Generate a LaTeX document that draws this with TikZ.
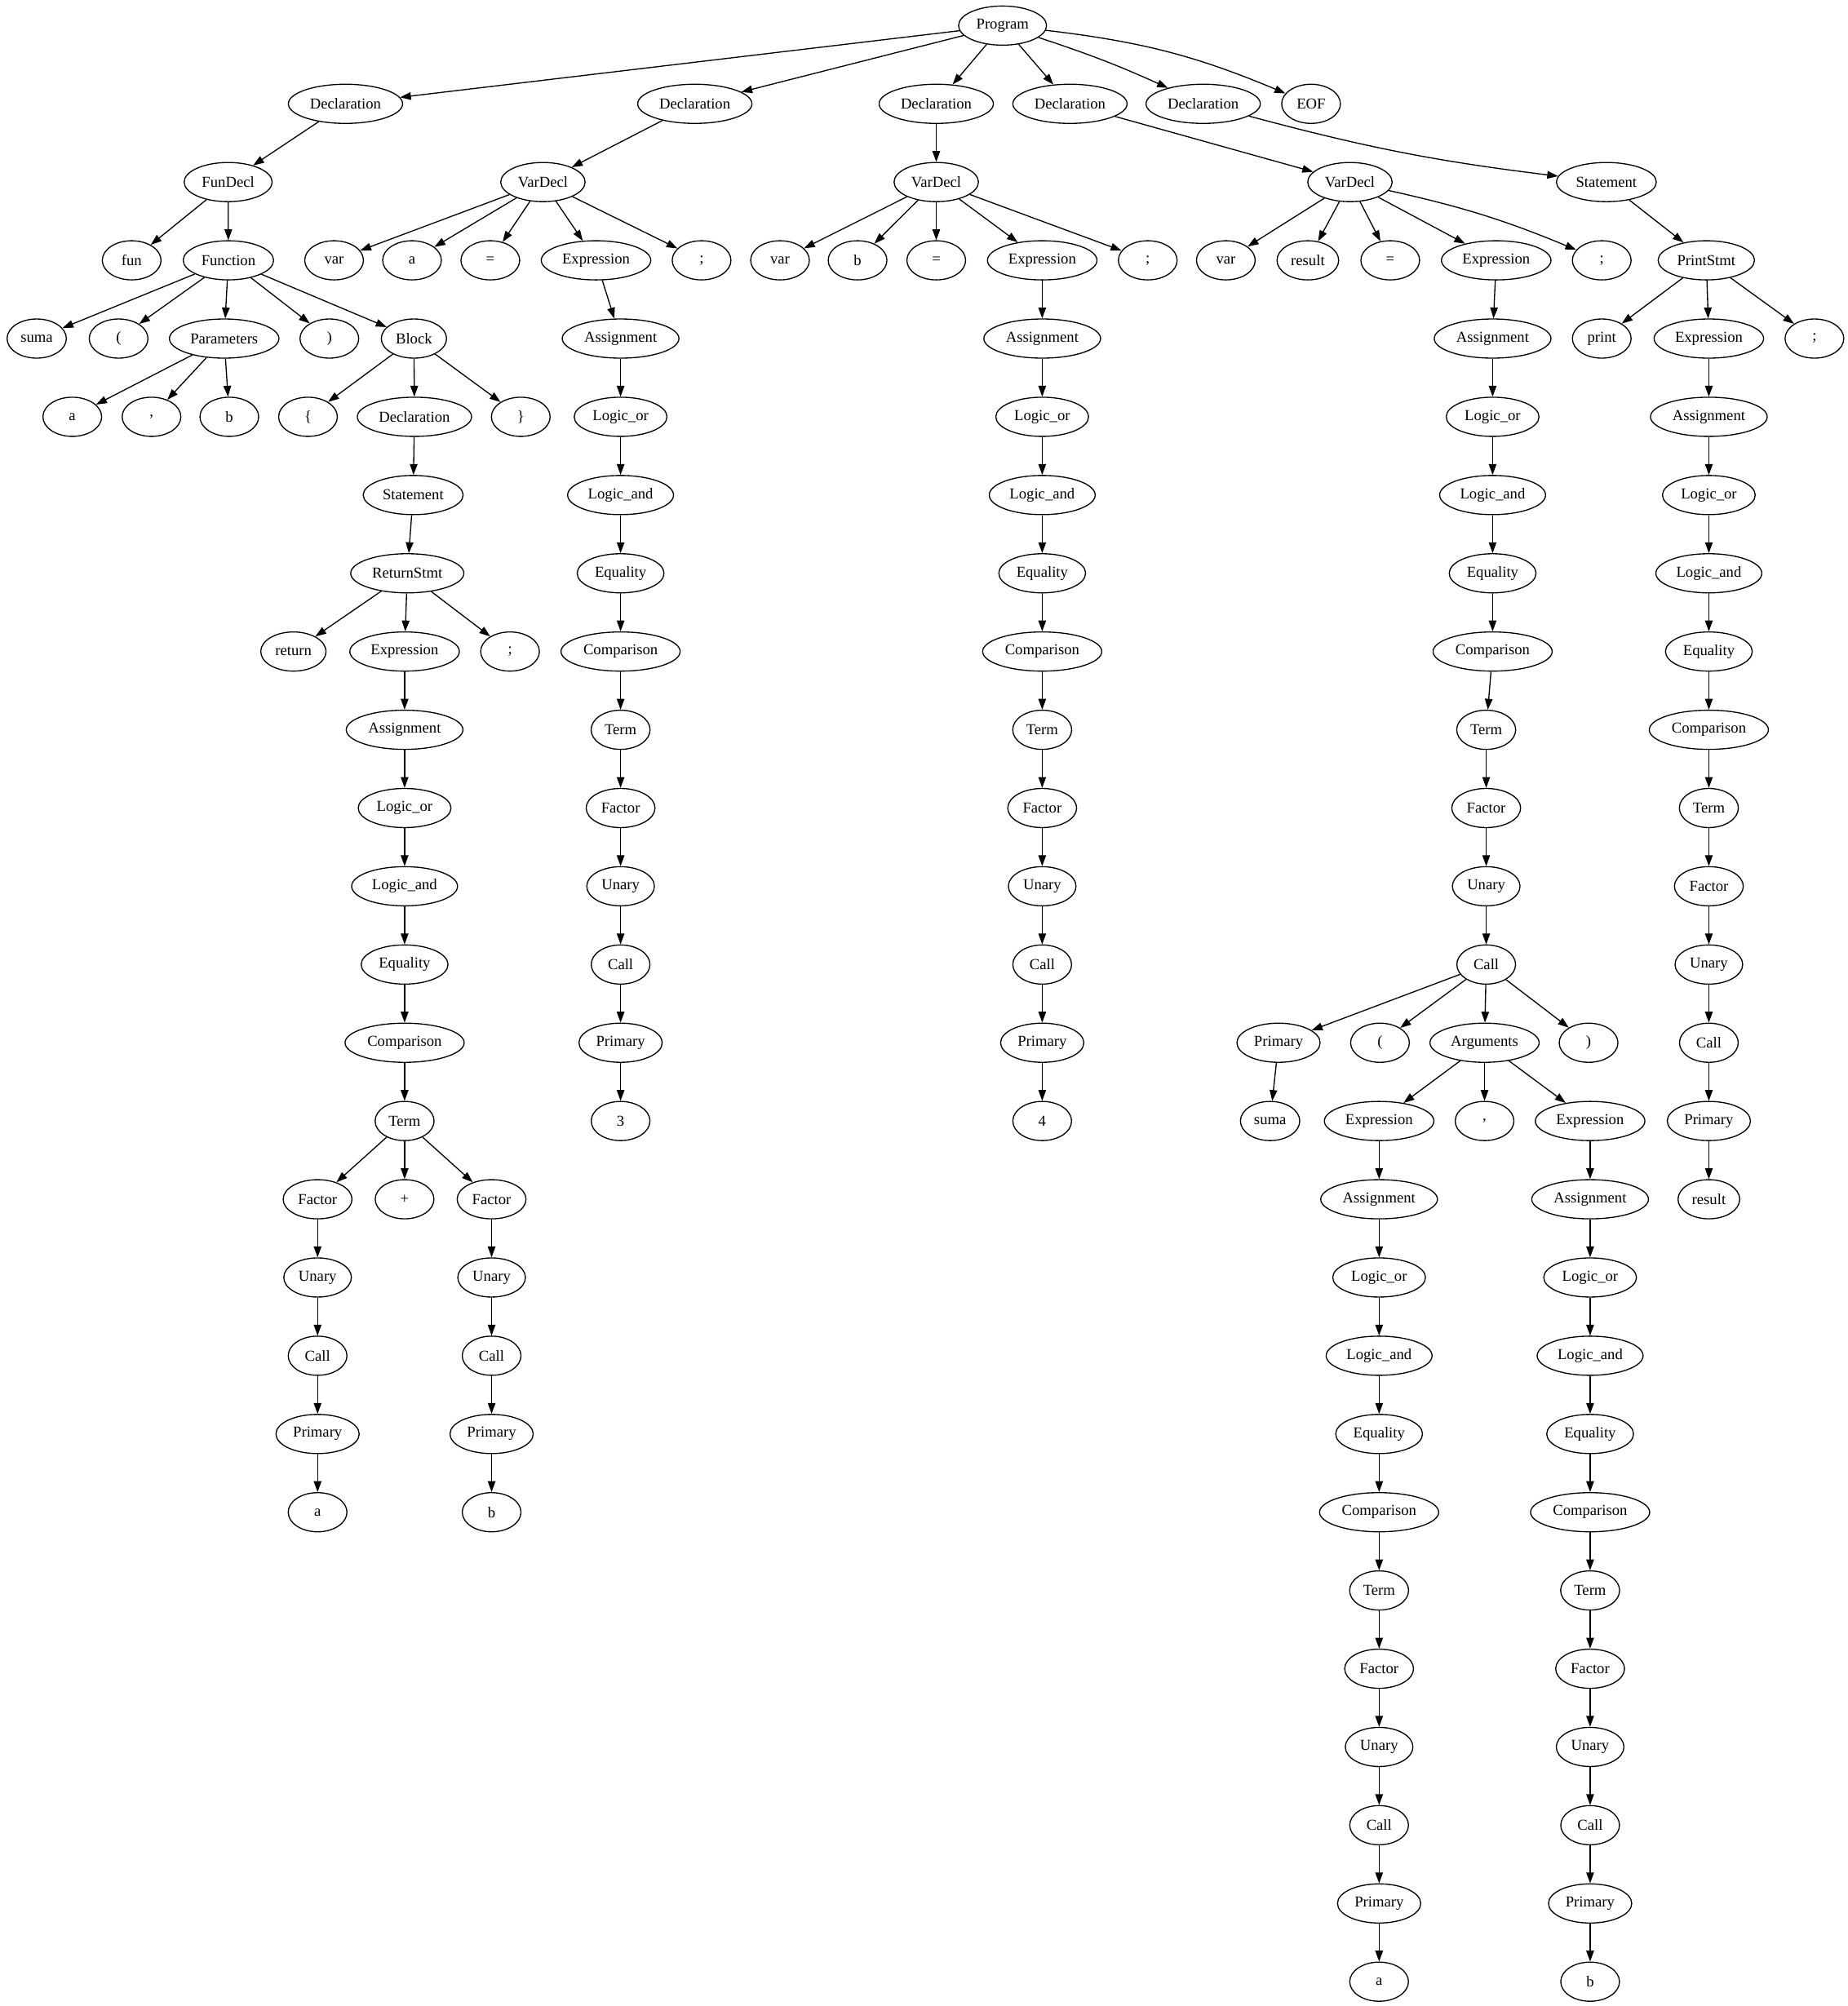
\documentclass[tikz,border=0pt]{standalone}
\usepackage{fontspec}
\setmainfont{Liberation Serif}
\usetikzlibrary{arrows.meta,shapes.geometric}
\tikzstyle{tn} = [draw, ellipse, line width=1pt, minimum width=54pt,
  minimum height=36pt, inner xsep=4.5pt, inner ysep=1pt,
  font=\fontsize{14pt}{16pt}\selectfont]
\tikzstyle{diredge} = [line width=1pt, -{Triangle[length=10pt,width=7pt]}]

% a straight run of nodes, one below the other, each pointing at the next
% #1 name prefix, #2 x, #3 rank of the first node, #4 labels
\newcommand{\exprchain}[4]{%
  \foreach \lab [count=\i from 0] in {#4} {
    \node[tn] (#1\i) at (#2,#3+\i) {\lab};
    \ifnum\i>0
      \pgfmathtruncatemacro\j{\i-1}
      \draw[diredge] (#1\j) -- (#1\i);
    \fi
  }}

\begin{document}
\begin{tikzpicture}[x=1.17647pt, y=-71.95pt]
    \useasboundingbox (0,-0.327) rectangle (1444,25.311);

    % root and declarations
    \node[tn] (prog) at (783.5,0) {Program};
    \node[tn] (decA) at (270,1) {Declaration};
    \node[tn] (decB) at (543,1) {Declaration};
    \node[tn] (decC) at (731.7,1) {Declaration};
    \node[tn] (decD) at (836.2,1) {Declaration};
    \node[tn] (decE) at (940.3,1) {Declaration};
    \node[tn] (eof) at (1024.6,1) {EOF};
    \foreach \d in {decA,decB,decC,decD}
        \draw[diredge] (prog) -- (\d);
    \draw[diredge] (prog) to[bend left=3] (decE);
    \draw[diredge] (prog) to[bend left=8] (eof);

    % fun suma(a, b) { return a + b; }
    \node[tn] (fundecl) at (178.3,2) {FunDecl};
    \node[tn] (fun) at (102.9,3) {fun};
    \node[tn] (func) at (178.5,3) {Function};
    \node[tn] (fname) at (28.7,4) {suma};
    \node[tn] (flp) at (92.7,4) {(};
    \node[tn] (params) at (175.2,4) {Parameters};
    \node[tn] (frp) at (257.4,4) {)};
    \node[tn] (block) at (323.5,4) {Block};
    \node[tn] (pa) at (56.5,5) {a};
    \node[tn] (pcomma) at (118.4,5) {,};
    \node[tn] (pb) at (179.2,5) {b};
    \node[tn] (lbrace) at (240.7,5) {\{};
    \node[tn] (bdecl) at (323.9,5) {Declaration};
    \node[tn] (rbrace) at (407,5) {\}};
    \node[tn] (bstmt) at (322.9,6) {Statement};
    \node[tn] (ret) at (318.3,7) {ReturnStmt};
    \node[tn] (retkw) at (229.3,8) {return};
    \node[tn] (retsemi) at (398.6,8) {;};
    \exprchain{rt}{316.2}{8}{Expression,Assignment,Logic\_or,Logic\_and,Equality,Comparison,Term}
    \node[tn] (plus) at (316.2,15) {+};
    \exprchain{rtl}{248.2}{15}{Factor,Unary,Call,Primary,a}
    \exprchain{rtr}{384.2}{15}{Factor,Unary,Call,Primary,b}
    \draw[diredge] (decA) -- (fundecl);
    \draw[diredge] (fundecl) -- (fun);
    \draw[diredge] (fundecl) -- (func);
    \foreach \c in {fname,flp,params,frp,block}
        \draw[diredge] (func) -- (\c);
    \foreach \c in {pa,pcomma,pb}
        \draw[diredge] (params) -- (\c);
    \foreach \c in {lbrace,bdecl,rbrace}
        \draw[diredge] (block) -- (\c);
    \draw[diredge] (bdecl) -- (bstmt);
    \draw[diredge] (bstmt) -- (ret);
    \foreach \c in {retkw,rt0,retsemi}
        \draw[diredge] (ret) -- (\c);
    \foreach \c in {rtl0,plus,rtr0}
        \draw[diredge] (rt6) -- (\c);

    % var a = 3;
    \node[tn] (vda) at (424.3,2) {VarDecl};
    \node[tn] (vara) at (261.1,3) {var};
    \node[tn] (ida) at (322,3) {a};
    \node[tn] (eqa) at (383.2,3) {=};
    \node[tn] (expa) at (465.8,3) {Expression};
    \node[tn] (semia) at (548.3,3) {;};
    \exprchain{va}{485}{4}{Assignment,Logic\_or,Logic\_and,Equality,Comparison,Term,Factor,Unary,Call,Primary,3}
    \draw[diredge] (decB) -- (vda);
    \foreach \c in {vara,ida,eqa,expa,semia}
        \draw[diredge] (vda) -- (\c);
    \draw[diredge] (expa) -- (va0);

    % var b = 4;
    \node[tn] (vdb) at (731.7,2) {VarDecl};
    \node[tn] (varb) at (609.6,3) {var};
    \node[tn] (idb) at (670.2,3) {b};
    \node[tn] (eqb) at (731.7,3) {=};
    \node[tn] (semib) at (897,3) {;};
    \exprchain{vb}{814.5}{3}{Expression,Assignment,Logic\_or,Logic\_and,Equality,Comparison,Term,Factor,Unary,Call,Primary,4}
    \draw[diredge] (decC) -- (vdb);
    \foreach \c in {varb,idb,eqb,vb0,semib}
        \draw[diredge] (vdb) -- (\c);

    % var result = suma(a, b);
    \node[tn] (vdr) at (1055,2) {VarDecl};
    \node[tn] (varr) at (958,3) {var};
    \node[tn] (idr) at (1022.1,3) {result};
    \node[tn] (eqr) at (1086.5,3) {=};
    \node[tn] (expr) at (1169.3,3) {Expression};
    \node[tn] (semir) at (1251.8,3) {;};
    \exprchain{vra}{1166.5}{4}{Assignment,Logic\_or,Logic\_and,Equality,Comparison}
    \exprchain{vrb}{1161.5}{9}{Term,Factor,Unary,Call}
    \node[tn] (cprim) at (999.2,13) {Primary};
    \node[tn] (clp) at (1078.5,13) {(};
    \node[tn] (args) at (1160.2,13) {Arguments};
    \node[tn] (crp) at (1241.5,13) {)};
    \node[tn] (cname) at (992.6,14) {suma};
    \node[tn] (acomma) at (1160.2,14) {,};
    \exprchain{ga}{1077.8}{14}{Expression,Assignment,Logic\_or,Logic\_and,Equality,Comparison,Term,Factor,Unary,Call,Primary,a}
    \exprchain{gb}{1242.7}{14}{Expression,Assignment,Logic\_or,Logic\_and,Equality,Comparison,Term,Factor,Unary,Call,Primary,b}
    \draw[diredge] (decD) -- (vdr);
    \foreach \c in {varr,idr,eqr,expr}
        \draw[diredge] (vdr) -- (\c);
    \draw[diredge] (vdr) to[bend left=5] (semir);
    \draw[diredge] (expr) -- (vra0);
    \draw[diredge] (vra4) -- (vrb0);
    \foreach \c in {cprim,clp,args,crp}
        \draw[diredge] (vrb3) -- (\c);
    \draw[diredge] (cprim) -- (cname);
    \foreach \c in {ga0,acomma,gb0}
        \draw[diredge] (args) -- (\c);

    % print result;
    \node[tn] (stmt) at (1255.4,2) {Statement};
    \node[tn] (pst) at (1333.5,3) {PrintStmt};
    \node[tn] (prt) at (1251.8,4) {print};
    \node[tn] (psemi) at (1418,4) {;};
    \exprchain{pe}{1335.5}{4}{Expression,Assignment,Logic\_or,Logic\_and,Equality,Comparison,Term,Factor,Unary,Call,Primary,result}
    \draw[diredge] (decE) to[bend right=4] (stmt);
    \draw[diredge] (stmt) -- (pst);
    \foreach \c in {prt,pe0,psemi}
        \draw[diredge] (pst) -- (\c);
\end{tikzpicture}
\end{document}
